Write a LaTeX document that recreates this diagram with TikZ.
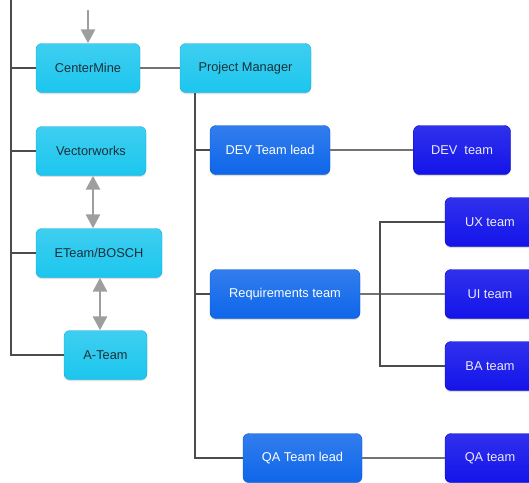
\documentclass[tikz,border=0pt]{standalone}
\usepackage{fontspec}
\setmainfont{Liberation Sans}
\usetikzlibrary{arrows.meta,shadows,positioning}

\definecolor{cyanbox}{HTML}{1CC6EE}
\definecolor{cyandark}{HTML}{12AEDB}
\definecolor{bluebox}{HTML}{0E66EA}
\definecolor{bluedark}{HTML}{0A56CC}
\definecolor{navybox}{HTML}{1414EA}
\definecolor{navydark}{HTML}{0808C8}
\definecolor{labeltext}{HTML}{1A3038}

\begin{document}
\begin{tikzpicture}[x=1pt,y=-1pt,
    box/.style={rectangle, rounded corners=6pt, minimum height=49pt, inner sep=2pt,
        font=\fontsize{12.8}{14}\selectfont, drop shadow={shadow xshift=0pt, shadow yshift=-1.5pt, opacity=0.25}},
    partner/.style={box, draw=cyandark, top color=cyanbox!85!white, bottom color=cyanbox, text=labeltext},
    lead/.style={box, draw=bluedark, top color=bluebox!85!white, bottom color=bluebox, text=white},
    team/.style={box, draw=navydark, top color=navybox!88!white, bottom color=navybox, text=white!92!blue},
    trunk/.style={draw=black!70, line width=1.5pt},
    link/.style={draw=black!55, line width=1.2pt},
    flow/.style={draw=black!38, line width=2.8pt, -{Triangle[length=14pt,width=14pt]}},
    both/.style={flow, {Triangle[length=14pt,width=14pt]}-{Triangle[length=14pt,width=14pt]}}]
    \useasboundingbox (0,0) rectangle (529,482);
    \clip (0,0) rectangle (529,482);

    \node (cm) at (88,68) [partner, minimum width=104pt] {CenterMine};
    \node (pm) at (245.5,68) [partner, minimum width=131pt] {Project Manager};
    \node (vw) at (91,151) [partner, minimum width=110pt] {Vectorworks};
    \node (et) at (99,253) [partner, minimum width=126pt] {ETeam/BOSCH};
    \node (at) at (105.5,355) [partner, minimum width=83pt] {A-Team};

    \node (devlead) at (270,150) [lead, minimum width=120pt] {DEV Team lead};
    \node (req) at (285,294) [lead, minimum width=150pt] {Requirements team};
    \node (qalead) at (302.5,458) [lead, minimum width=119pt] {QA Team lead};

    \node (devteam) at (462,150) [team, minimum width=97pt] {DEV\ \ team};
    \node (ux) at (490,222) [team, minimum width=90pt] {UX team};
    \node (ui) at (490,294) [team, minimum width=90pt] {UI team};
    \node (ba) at (490,366) [team, minimum width=90pt] {BA team};
    \node (qateam) at (490,458) [team, minimum width=90pt] {QA team};

    \coordinate (top) at (11,0);
    \coordinate (source) at (88,10);
    \coordinate (pmtrunk) at (195,93);
    \coordinate (fork) at (380,294);

    \draw[trunk] (top) |- (at.west);
    \draw[trunk] (cm.west -| top) -- (cm.west);
    \draw[trunk] (vw.west -| top) -- (vw.west);
    \draw[trunk] (et.west -| top) -- (et.west);
    \draw[link] (cm.east) -- (pm.west);

    \draw[trunk] (pmtrunk) |- (qalead.west);
    \draw[trunk] (devlead.west -| pmtrunk) -- (devlead.west);
    \draw[trunk] (req.west -| pmtrunk) -- (req.west);
    \draw[link] (devlead.east) -- (devteam.west);
    \draw[link] (qalead.east) -- (qateam.west);

    \draw[link] (req.east) -- (ui.west);
    \draw[trunk] (fork) |- (ux.west);
    \draw[trunk] (fork) |- (ba.west);

    \draw[flow] (source) -- (cm.north);
    \draw[both] ([xshift=2pt]vw.south) -- ([xshift=2pt]vw.south |- et.north);
    \draw[both] ([xshift=1pt]et.south) -- ([xshift=1pt]et.south |- at.north);
\end{tikzpicture}
\end{document}
